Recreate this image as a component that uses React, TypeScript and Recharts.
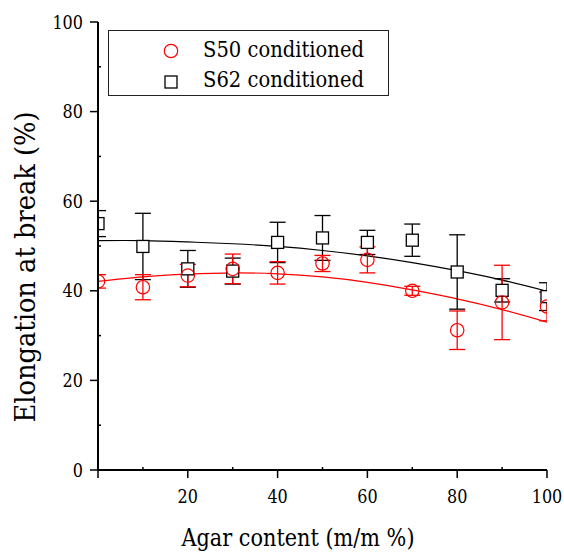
import React from "react";
import {
  ComposedChart,
  Scatter,
  Line,
  XAxis,
  YAxis,
  ErrorBar,
  Label,
} from "recharts";

// agar content (m/m %)
const agar = [0, 10, 20, 30, 40, 50, 60, 70, 80, 90, 100];

// S50 conditioned (red circles)
const s50 = [42.1, 40.8, 43.4, 44.9, 44.0, 46.1, 46.9, 40.0, 31.2, 37.4, 36.5];
const s50Err = [1.5, 2.8, 2.5, 3.3, 2.5, 1.8, 2.9, 1.0, 4.3, 8.3, 3.2];
const s50Fit = [42.1, 43.1, 43.7, 44.0, 43.8, 43.1, 41.9, 40.2, 38.2, 35.8, 33.0];

// S62 conditioned (black squares)
const s62 = [55.0, 49.9, 44.9, 44.4, 50.8, 51.8, 50.8, 51.3, 44.2, 40.1, 38.7];
const s62Err = [2.9, 7.4, 4.1, 2.9, 4.5, 5.0, 2.7, 3.6, 8.3, 2.6, 3.1];
const s62Fit = [51.2, 51.2, 50.9, 50.5, 49.9, 49.0, 47.8, 46.3, 44.5, 42.4, 39.9];

const ticks = [0, 10, 20, 30, 40, 50, 60, 70, 80, 90, 100];

const W = 564;
const H = 553;
const M = { top: 22, right: 17, bottom: 83, left: 98 };
const PW = W - M.left - M.right;
const PH = H - M.top - M.bottom;

const SERIF = "DejaVu Serif";

const s50Data = agar.map((x, i) => ({ x, y: s50[i], err: s50Err[i] }));
const s62Data = agar.map((x, i) => ({ x, y: s62[i], err: s62Err[i] }));
const s50Line = agar.map((x, i) => ({ x, y: s50Fit[i] }));
const s62Line = agar.map((x, i) => ({ x, y: s62Fit[i] }));

const BottomTick = (props: any) => {
  const { x, y, payload } = props;
  const v = payload.value;
  const major = v % 20 === 0;
  const s = String(v);
  return (
    <g>
      <line x1={x} x2={x} y1={y} y2={major ? y + 8 : y - 3} stroke="#000" strokeWidth={1.5} />
      {major && v !== 0 && (
        <text
          x={x}
          y={y + 32.5}
          textAnchor="middle"
          fontFamily={SERIF}
          fontSize={18}
          textLength={s.length * 10.2}
          lengthAdjust="spacingAndGlyphs"
          fill="#000"
        >
          {s}
        </text>
      )}
    </g>
  );
};

const LeftTick = (props: any) => {
  const { x, y, payload } = props;
  const v = payload.value;
  const major = v % 20 === 0;
  const s = String(v);
  return (
    <g>
      <line x1={x} x2={major ? x - 8 : x + 3} y1={y} y2={y} stroke="#000" strokeWidth={1.5} />
      {major && (
        <text
          x={x - 15}
          y={y + 6.5}
          textAnchor="end"
          fontFamily={SERIF}
          fontSize={18}
          textLength={s.length * 10.2}
          lengthAdjust="spacingAndGlyphs"
          fill="#000"
        >
          {s}
        </text>
      )}
    </g>
  );
};

const TopTick = (props: any) => {
  const { x, y } = props;
  return <line x1={x} x2={x} y1={y} y2={y + 3} stroke="#000" strokeWidth={1} />;
};

const RightTick = (props: any) => {
  const { x, y } = props;
  return <line x1={x} x2={x - 3} y1={y} y2={y} stroke="#000" strokeWidth={1} />;
};

const circleShape = (props: any) => (
  <circle cx={props.cx} cy={props.cy} r={6.7} fill="none" stroke="#ff0000" strokeWidth={1.2} />
);

const squareShape = (props: any) => (
  <rect
    x={props.cx - 6}
    y={props.cy - 6}
    width={12}
    height={12}
    fill="#fff"
    stroke="#000"
    strokeWidth={1.3}
  />
);

export default function App() {
  return (
    <div style={{ position: "absolute", left: 0, top: 0, width: W, height: H, background: "#fff" }}>
      {/* data layer */}
      <div style={{ position: "absolute", left: M.left, top: M.top, width: PW, height: PH }}>
        <ComposedChart width={PW} height={PH} margin={{ top: 0, right: 0, bottom: 0, left: 0 }}>
          <XAxis type="number" dataKey="x" domain={[0, 100]} allowDataOverflow hide />
          <YAxis type="number" dataKey="y" domain={[0, 100]} allowDataOverflow hide />
          <Line
            data={s62Line}
            dataKey="y"
            type="natural"
            stroke="#000"
            strokeWidth={1.2}
            dot={false}
            activeDot={false}
            isAnimationActive={false}
          />
          <Line
            data={s50Line}
            dataKey="y"
            type="natural"
            stroke="#ff0000"
            strokeWidth={1.2}
            dot={false}
            activeDot={false}
            isAnimationActive={false}
          />
          <Scatter data={s62Data} dataKey="y" shape={squareShape} isAnimationActive={false}>
            <ErrorBar dataKey="err" direction="y" width={8} stroke="#000" strokeWidth={1.3} />
          </Scatter>
          <Scatter data={s50Data} dataKey="y" shape={circleShape} isAnimationActive={false}>
            <ErrorBar dataKey="err" direction="y" width={8} stroke="#ff0000" strokeWidth={1.3} />
          </Scatter>
        </ComposedChart>
      </div>

      {/* white frame hiding marks that spill outside the plot area */}
      <svg
        width={W}
        height={H}
        style={{ position: "absolute", left: 0, top: 0, pointerEvents: "none" }}
      >
        <path
          d={`M0 0H${W}V${H}H0Z M${M.left} ${M.top}V${M.top + PH}H${M.left + PW}V${M.top}Z`}
          fill="#fff"
          fillRule="evenodd"
        />
      </svg>

      {/* axes frame */}
      <div style={{ position: "absolute", left: 0, top: 0 }}>
        <ComposedChart
          width={W}
          height={H}
          margin={{ top: M.top, right: M.right, bottom: 0, left: 0 }}
        >
          <XAxis
            xAxisId={0}
            type="number"
            dataKey="x"
            domain={[0, 100]}
            ticks={ticks}
            interval={0}
            allowDataOverflow
            height={M.bottom}
            tickSize={0}
            tickMargin={0}
            tickLine={false}
            axisLine={{ stroke: "#000", strokeWidth: 2 }}
            tick={<BottomTick />}
          >
            <Label
              content={() => (
                <text
                  x={298}
                  y={546}
                  textAnchor="middle"
                  fontFamily={SERIF}
                  fontSize={25}
                  textLength={233}
                  lengthAdjust="spacingAndGlyphs"
                  fill="#000"
                >
                  Agar content (m/m %)
                </text>
              )}
            />
          </XAxis>
          <XAxis
            xAxisId="top"
            orientation="top"
            type="number"
            domain={[0, 100]}
            ticks={ticks}
            interval={0}
            allowDataOverflow
            height={0}
            tickSize={0}
            tickMargin={0}
            tickLine={false}
            axisLine={{ stroke: "#333", strokeWidth: 1.5 }}
            tick={<TopTick />}
          />
          <YAxis
            yAxisId={0}
            type="number"
            dataKey="y"
            domain={[0, 100]}
            ticks={ticks}
            interval={0}
            allowDataOverflow
            width={M.left}
            tickSize={0}
            tickMargin={0}
            tickLine={false}
            axisLine={{ stroke: "#000", strokeWidth: 2 }}
            tick={<LeftTick />}
          >
            <Label
              content={() => (
                <text
                  transform="translate(35,267) rotate(-90)"
                  textAnchor="middle"
                  fontFamily={SERIF}
                  fontSize={27}
                  textLength={311}
                  lengthAdjust="spacingAndGlyphs"
                  fill="#000"
                >
                  Elongation at break (%)
                </text>
              )}
            />
          </YAxis>
          <YAxis
            yAxisId="right"
            orientation="right"
            type="number"
            domain={[0, 100]}
            ticks={ticks}
            interval={0}
            allowDataOverflow
            width={0}
            tickSize={0}
            tickMargin={0}
            tickLine={false}
            axisLine={{ stroke: "#000", strokeWidth: 2 }}
            tick={<RightTick />}
          />
        </ComposedChart>
      </div>

      {/* legend box */}
      <svg
        width={W}
        height={H}
        style={{ position: "absolute", left: 0, top: 0, pointerEvents: "none" }}
      >
        <rect x={108.5} y={30.5} width={280} height={65} fill="none" stroke="#222" strokeWidth={1} />
        <circle cx={171} cy={51} r={6.7} fill="none" stroke="#ff0000" strokeWidth={1.2} />
        <text
          x={203}
          y={57.3}
          fontFamily={SERIF}
          fontSize={21.5}
          textLength={161}
          lengthAdjust="spacingAndGlyphs"
          fill="#000"
        >
          S50 conditioned
        </text>
        <rect x={165} y={76} width={12} height={12} fill="none" stroke="#000" strokeWidth={1.3} />
        <text
          x={203}
          y={86.7}
          fontFamily={SERIF}
          fontSize={21.5}
          textLength={161}
          lengthAdjust="spacingAndGlyphs"
          fill="#000"
        >
          S62 conditioned
        </text>
      </svg>
    </div>
  );
}
